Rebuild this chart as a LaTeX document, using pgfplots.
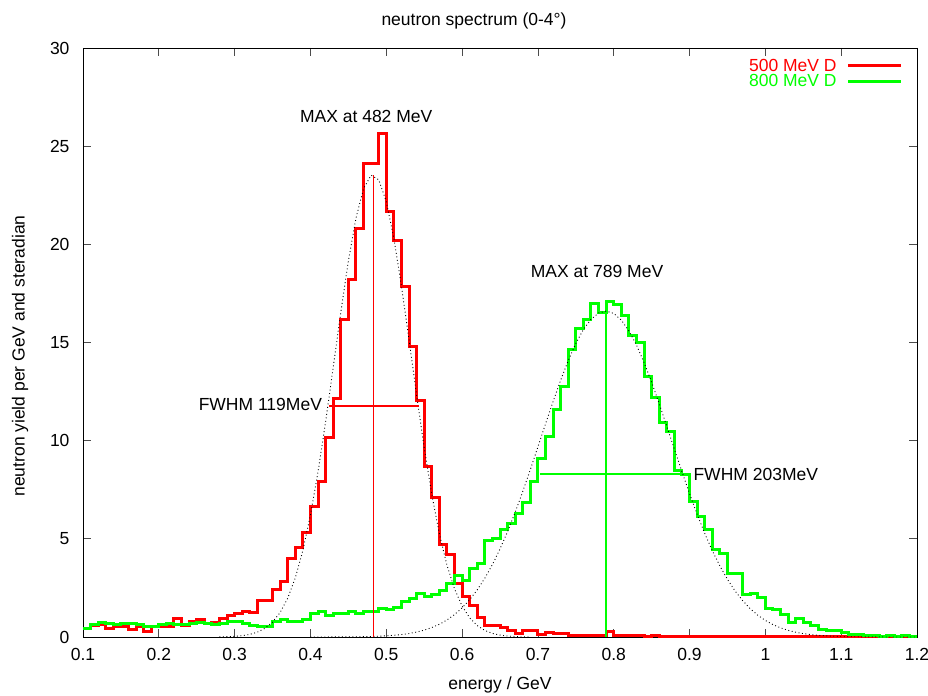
\documentclass[border=0pt]{standalone}
\usepackage{fontspec}
\setmainfont{Liberation Sans}
\usepackage{pgfplots}
\usepackage{pgfplotstable}
\pgfplotsset{compat=1.18}
\definecolor{gpred}{RGB}{255,0,0}
\definecolor{gpgreen}{RGB}{0,255,0}
\newcommand{\fs}{\fontsize{17.5bp}{19bp}\selectfont}

\pgfplotstableread{
x y
0.10 0.45
0.11 0.60
0.12 0.65
0.13 0.41
0.14 0.55
0.15 0.53
0.16 0.38
0.17 0.53
0.18 0.28
0.19 0.53
0.20 0.56
0.21 0.53
0.22 0.95
0.23 0.60
0.24 0.80
0.25 0.87
0.26 0.70
0.27 0.75
0.28 0.95
0.29 1.12
0.30 1.21
0.31 1.29
0.32 1.26
0.33 1.88
0.34 1.88
0.35 2.40
0.36 2.82
0.37 4.01
0.38 4.55
0.39 5.31
0.40 6.67
0.41 7.91
0.42 10.17
0.43 12.16
0.44 16.15
0.45 18.19
0.46 20.82
0.47 24.13
0.48 24.13
0.49 25.62
0.50 21.67
0.51 20.19
0.52 17.85
0.53 14.79
0.54 12.04
0.55 8.68
0.56 7.10
0.57 4.69
0.58 4.22
0.59 2.73
0.60 2.05
0.61 1.62
0.62 0.97
0.63 0.58
0.64 0.58
0.65 0.49
0.66 0.32
0.67 0.20
0.68 0.32
0.69 0.32
0.70 0.14
0.71 0.25
0.72 0.19
0.73 0.19
0.74 0.10
0.75 0.10
0.76 0.10
0.77 0.10
0.78 0.10
0.79 0.27
0.80 0.10
0.81 0.08
0.82 0.06
0.83 0.08
0.84 0.05
0.85 0.08
0.86 0.04
0.87 0.05
0.88 0.03
0.89 0.04
0.90 0.03
0.91 0.05
0.92 0.02
0.93 0.03
0.94 0.02
0.95 0.03
0.96 0.02
0.97 0.02
0.98 0.03
0.99 0.02
1.00 0.02
1.01 0.01
1.02 0.02
1.03 0.01
1.04 0.02
1.05 0.01
1.06 0.02
1.07 0.01
1.08 0.05
1.09 0.02
1.10 0.01
1.11 0.01
1.12 0.01
1.13 0.01
1.14 0.01
1.15 0.01
1.16 0.04
1.17 0.01
1.18 0.01
1.19 0.01
1.20 0.01
}\reddata

\pgfplotstableread{
x y
0.10 0.45
0.11 0.65
0.12 0.73
0.13 0.67
0.14 0.62
0.15 0.70
0.16 0.67
0.17 0.62
0.18 0.53
0.19 0.53
0.20 0.62
0.21 0.70
0.22 0.62
0.23 0.65
0.24 0.67
0.25 0.75
0.26 0.70
0.27 0.62
0.28 0.70
0.29 0.79
0.30 0.79
0.31 0.70
0.32 0.58
0.33 0.56
0.34 0.56
0.35 0.79
0.36 0.87
0.37 0.80
0.38 0.78
0.39 0.87
0.40 1.20
0.41 1.29
0.42 1.12
0.43 1.21
0.44 1.21
0.45 1.32
0.46 1.21
0.47 1.32
0.48 1.32
0.49 1.46
0.50 1.40
0.51 1.51
0.52 1.80
0.53 1.97
0.54 2.22
0.55 2.05
0.56 2.17
0.57 2.35
0.58 2.75
0.59 3.12
0.60 2.90
0.61 3.50
0.62 3.75
0.63 4.94
0.64 5.03
0.65 5.45
0.66 5.79
0.67 6.27
0.68 6.84
0.69 7.90
0.70 9.10
0.71 10.20
0.72 11.60
0.73 12.75
0.74 14.62
0.75 15.69
0.76 16.15
0.77 17.00
0.78 16.52
0.79 17.10
0.80 16.93
0.81 16.40
0.82 15.38
0.83 14.99
0.84 13.28
0.85 12.19
0.86 10.90
0.87 10.47
0.88 8.50
0.89 8.30
0.90 6.89
0.91 6.16
0.92 5.45
0.93 4.47
0.94 4.23
0.95 3.24
0.96 3.24
0.97 2.18
0.98 2.22
0.99 2.03
1.00 1.46
1.01 1.40
1.02 1.15
1.03 0.75
1.04 0.95
1.05 0.76
1.06 0.58
1.07 0.39
1.08 0.32
1.09 0.32
1.10 0.22
1.11 0.15
1.12 0.15
1.13 0.10
1.14 0.10
1.15 0.03
1.16 0.10
1.17 0.03
1.18 0.07
1.19 0.02
1.20 0.02
}\greendata

\pgfplotstableread{
x y
0.28 0.008
0.29 0.017
0.30 0.035
0.31 0.069
0.32 0.134
0.33 0.248
0.34 0.442
0.35 0.757
0.36 1.248
0.37 1.976
0.38 3.010
0.39 4.408
0.40 6.212
0.41 8.415
0.42 10.96
0.43 13.73
0.44 16.53
0.45 19.15
0.46 21.33
0.47 22.84
0.48 23.52
0.49 23.29
0.50 22.18
0.51 20.31
0.52 17.88
0.53 15.14
0.54 12.33
0.55 9.65
0.56 7.27
0.57 5.26
0.58 3.66
0.59 2.451
0.60 1.578
0.61 0.976
0.62 0.581
0.63 0.333
0.64 0.183
0.65 0.097
0.66 0.049
0.67 0.024
0.68 0.011
0.69 0.005
}\redfit

\pgfplotstableread{
x y
0.40 0.001
0.42 0.002
0.44 0.005
0.46 0.011
0.48 0.026
0.50 0.059
0.51 0.087
0.52 0.125
0.53 0.179
0.54 0.252
0.55 0.350
0.56 0.480
0.57 0.649
0.58 0.866
0.59 1.141
0.60 1.482
0.61 1.899
0.62 2.402
0.63 2.997
0.64 3.690
0.65 4.484
0.66 5.372
0.67 6.351
0.68 7.409
0.69 8.527
0.70 9.685
0.71 10.85
0.72 11.99
0.73 13.08
0.74 14.08
0.75 14.95
0.76 15.66
0.77 16.18
0.78 16.50
0.79 16.60
0.80 16.48
0.81 16.14
0.82 15.59
0.83 14.87
0.84 13.98
0.85 12.98
0.86 11.88
0.87 10.73
0.88 9.568
0.89 8.415
0.90 7.301
0.91 6.250
0.92 5.279
0.93 4.399
0.94 3.617
0.95 2.933
0.96 2.347
0.97 1.854
0.98 1.444
0.99 1.111
1.00 0.842
1.01 0.630
1.02 0.465
1.03 0.339
1.04 0.244
1.05 0.173
1.06 0.121
1.07 0.083
1.08 0.057
1.10 0.025
1.12 0.011
1.15 0.003
1.20 0.000
}\greenfit

\begin{document}
\begin{tikzpicture}
\path[use as bounding box] (-83bp,-59bp) rectangle (845bp,637bp);
\begin{axis}[
  at={(0,0)}, anchor=south west,
  scale only axis, width=834bp, height=589bp,
  xmin=0.1, xmax=1.2, ymin=0, ymax=30,
  xtick={0.1,0.2,0.3,0.4,0.5,0.6,0.7,0.8,0.9,1.0,1.1,1.2},
  ytick={0,5,10,15,20,25,30},
  minor tick num=0,
  tick align=inside,
  major tick length=8bp,
  tick style={black!70, line width=0.7bp},
  axis line style={black, line width=0.8bp},
  /pgf/number format/assume math mode=true,
  /pgf/number format/fixed,
  /pgf/number format/precision=2,
  ticklabel style={font=\fs},
  xticklabel style={yshift=-8bp},
  yticklabel style={xshift=-10bp},
  legend style={at={(0.983,0.985)}, anchor=north east, draw=none, fill=none,
    font=\fs, inner sep=0pt, row sep=-2bp, column sep=8bp, legend cell align=right},
  legend plot pos=right,
  legend image code/.code={\draw[#1] (0bp,0bp) -- (53bp,0bp);},
  clip=true,
]
\addplot[const plot, color=gpred, line width=3bp] table[x=x,y=y] {\reddata};
\addlegendentry{\textcolor{gpred}{500 MeV D}}
\addplot[const plot, color=gpgreen, line width=3bp] table[x=x,y=y] {\greendata};
\addlegendentry{\textcolor{gpgreen}{800 MeV D}}
\addplot[forget plot, black, line width=0.9bp, dash pattern=on 0.9bp off 2.6bp] table[x=x,y=y] {\redfit};
\addplot[forget plot, black, line width=0.9bp, dash pattern=on 0.9bp off 2.6bp] table[x=x,y=y] {\greenfit};
\addplot[forget plot, draw=gpred, line width=1.3bp] coordinates {(0.4827,0) (0.4827,23.55)};
\addplot[forget plot, draw=gpred, line width=1.3bp] coordinates {(0.425,11.77) (0.5426,11.77)};
\addplot[forget plot, draw=gpgreen, line width=1.3bp] coordinates {(0.7897,0) (0.7897,16.55)};
\addplot[forget plot, draw=gpgreen, line width=1.3bp] coordinates {(0.703,8.30) (0.890,8.30)};
\node[font=\fs] at (axis cs:0.4735,26.49) {MAX at 482 MeV};
\node[font=\fs] at (axis cs:0.778,18.6) {MAX at 789 MeV};
\node[font=\fs, anchor=east, inner sep=0pt] at (axis cs:0.4154,11.82) {FWHM 119MeV};
\node[font=\fs, anchor=west, inner sep=0pt] at (axis cs:0.905,8.30) {FWHM 203MeV};
\end{axis}
\node[font=\fs] at (391bp,616bp) {neutron spectrum (0-4°)};
\node[font=\fs] at (417bp,-48bp) {energy / GeV};
\node[font=\fs, rotate=90] at (-63bp,281bp) {neutron yield per GeV and steradian};
\end{tikzpicture}
\end{document}
